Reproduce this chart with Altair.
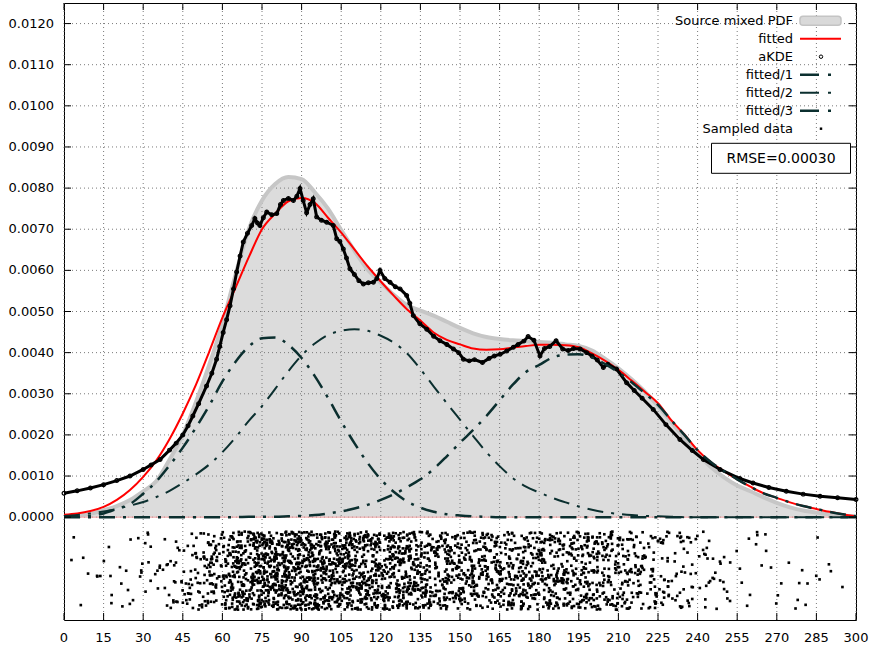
import math
import altair as alt
import pandas as pd

# ---------------- data ----------------
x_grid = list(range(0, 301, 5))

source_pdf = [0.00002, 0.00004, 0.00008, 0.00017, 0.00027, 0.00042, 0.00063, 0.00088, 0.0014, 0.0020,
              0.0028, 0.0037, 0.0047, 0.0059, 0.0070, 0.0077, 0.0081, 0.00827, 0.00822, 0.0079,
              0.0075, 0.00698, 0.00648, 0.00602, 0.0057, 0.0054, 0.00515, 0.00502, 0.0049, 0.00475,
              0.0046, 0.00447, 0.00438, 0.00433, 0.0043, 0.00428, 0.00426, 0.00424, 0.0042, 0.00416,
              0.00405, 0.00385, 0.00362, 0.00335, 0.00305, 0.0027, 0.00232, 0.00193, 0.00155, 0.00122,
              0.00097, 0.00077, 0.00063, 0.00048, 0.00035, 0.00024, 0.00016, 0.00011, 0.00007, 0.00004,
              0.00002]

fitted = [0.00006, 0.00009, 0.00015, 0.00025, 0.00042, 0.00066, 0.00098, 0.00138, 0.0019, 0.00252,
          0.00322, 0.00402, 0.00485, 0.00558, 0.00632, 0.0070, 0.00738, 0.00768, 0.00776, 0.00764,
          0.00728, 0.00692, 0.00651, 0.0061, 0.00573, 0.00538, 0.00505, 0.00478, 0.00449, 0.00431,
          0.0042, 0.0041, 0.00407, 0.00408, 0.00412, 0.00416, 0.00419, 0.00419, 0.00418, 0.00413,
          0.00398, 0.0038, 0.00358, 0.00332, 0.00305, 0.00277, 0.00236, 0.00201, 0.00163, 0.00134,
          0.00112, 0.00092, 0.00074, 0.00058, 0.00047, 0.00036, 0.00027, 0.0002, 0.00013, 0.00007,
          0.00002]

comp1 = [0.00001, 0.00001, 0.00003, 0.00009, 0.0002, 0.00032, 0.00057, 0.00087, 0.00126, 0.00169,
         0.00218, 0.00271, 0.0033, 0.00378, 0.00415, 0.00435, 0.00437, 0.00419, 0.00387, 0.00343,
         0.0029, 0.00233, 0.0018, 0.00132, 0.00092, 0.00061, 0.00038, 0.00023, 0.00013, 0.00007,
         0.00004, 0.00002, 0.00001, 0.0, 0.0, 0.0, 0.0, 0.0, 0.0, 0.0,
         0.0, 0.0, 0.0, 0.0, 0.0, 0.0, 0.0, 0.0, 0.0, 0.0,
         0.0, 0.0, 0.0, 0.0, 0.0, 0.0, 0.0, 0.0, 0.0, 0.0,
         0.0]

comp2 = [0.00003, 0.00005, 0.00009, 0.00014, 0.0002, 0.00028, 0.00037, 0.00049, 0.00064, 0.00083,
         0.00104, 0.00128, 0.00158, 0.00194, 0.00234, 0.0027, 0.00312, 0.00355, 0.00393, 0.00422,
         0.00443, 0.00453, 0.00457, 0.00453, 0.00441, 0.00424, 0.00398, 0.0036, 0.00318, 0.00277,
         0.00237, 0.00197, 0.00158, 0.00124, 0.00095, 0.00074, 0.0006, 0.00047, 0.00036, 0.00026,
         0.00018, 0.00012, 0.00008, 0.00005, 0.00003, 0.00002, 0.00001, 0.0, 0.0, 0.0,
         0.0, 0.0, 0.0, 0.0, 0.0, 0.0, 0.0, 0.0, 0.0, 0.0,
         0.0]

comp3 = [0.0, 0.0, 0.0, 0.0, 0.0, 0.0, 0.0, 0.0, 0.0, 0.0,
         0.0, 0.0, 0.0, 0.0, 0.00001, 0.00001, 0.00001, 0.00002, 0.00003, 0.00005,
         0.00009, 0.00014, 0.00021, 0.0003, 0.00042, 0.00056, 0.00073, 0.00092, 0.00117, 0.00148,
         0.00181, 0.00212, 0.00246, 0.00284, 0.00322, 0.00353, 0.0037, 0.00388, 0.00395, 0.00396,
         0.00388, 0.00372, 0.00352, 0.00328, 0.00301, 0.00273, 0.00236, 0.002, 0.00163, 0.00134,
         0.00112, 0.00092, 0.00074, 0.00058, 0.00047, 0.00036, 0.00027, 0.0002, 0.00013, 0.00007,
         0.00002]

akde_x = [0, 5, 10, 15, 20, 25, 30, 33, 36.4, 40, 42.5, 45, 47, 48.8, 51, 54, 56, 57.8, 59, 60.3,
          61.6, 62.9, 64.2, 65.4, 66.7, 67.9, 69.5, 71.1, 72.3, 73.3, 74.2, 75.5, 76.8, 78.7, 80.6, 82,
          83.1, 85, 86.9, 88.2, 89.4, 90.6, 91.9, 93.2, 94.4, 95.7, 97.5, 99.5, 102, 103.3, 104.5,
          105.8, 107, 108.3, 110, 111.7, 113.4, 115.3, 117.2, 118.5, 119.7, 121.5, 123.5, 125.5,
          127.3, 129.8, 131, 132.3, 134.8, 137.4, 140, 142.4, 145, 147.5, 149.5, 151.3, 153.5, 155.5,
          158.5, 161, 163, 165.2, 167.7, 170.2, 172, 174.2, 175.8, 178, 180.3, 182, 184, 186.4, 188.9,
          191, 193, 195.5, 198, 200, 202, 204.3, 206, 209.3, 213.1, 216, 219, 223.2, 228, 233.3, 238,
          242.2, 248.5, 256, 261, 267, 273.6, 280, 286.4, 293, 300]
akde_y = [0.00058, 0.00064, 0.00071, 0.00079, 0.00089, 0.001, 0.00116, 0.00127, 0.0014, 0.00163,
          0.0018, 0.002, 0.00222, 0.00246, 0.00276, 0.00319, 0.0035, 0.00384, 0.00415, 0.00449,
          0.0048, 0.00514, 0.00555, 0.00596, 0.00635, 0.00669, 0.0069, 0.00709, 0.00726, 0.00715,
          0.00709, 0.00728, 0.00742, 0.00735, 0.00738, 0.0076, 0.0077, 0.00775, 0.0077, 0.0078,
          0.00799, 0.0077, 0.0074, 0.0076, 0.00774, 0.0073, 0.00722, 0.00717, 0.00709, 0.00677,
          0.0067, 0.00652, 0.0063, 0.00604, 0.0059, 0.00575, 0.00567, 0.0057, 0.00571, 0.0058,
          0.006, 0.0058, 0.00571, 0.0056, 0.00555, 0.00539, 0.0052, 0.0049, 0.0047, 0.00457,
          0.0044, 0.00429, 0.0042, 0.00409, 0.004, 0.00384, 0.0038, 0.00383, 0.00376, 0.00386,
          0.00392, 0.00396, 0.00404, 0.00413, 0.0042, 0.00428, 0.00439, 0.0043, 0.00392, 0.0041,
          0.00415, 0.00429, 0.00409, 0.00405, 0.0041, 0.00409, 0.004, 0.00392, 0.00382, 0.00364,
          0.00372, 0.0036, 0.00327, 0.00308, 0.00289, 0.00262, 0.00225, 0.00189, 0.00162, 0.0014,
          0.00116, 0.00094, 0.00083, 0.00072, 0.00063, 0.00056, 0.00051, 0.00047, 0.00043]

# sampled data: number of points per 5-unit bin, counted from the strip below zero
sample_bin_lo = list(range(0, 300, 5))
sample_counts = [2, 3, 3, 5, 6, 7, 8, 11, 16, 25, 35, 50, 75, 95, 110, 115, 120, 120, 115, 110,
                 110, 105, 100, 95, 90, 88, 82, 78, 72, 70, 68, 66, 66, 66, 66, 66, 66, 66, 64, 62,
                 58, 54, 48, 40, 32, 26, 22, 16, 14, 9, 7, 5, 4, 4, 3, 4, 3, 3, 2, 0]

x_ticks = list(range(0, 301, 15))
y_ticks = [i / 1000 for i in range(13)]
legend_labels = ["Source mixed PDF", "fitted", "aKDE", "fitted/1", "fitted/2", "fitted/3", "Sampled data"]
rmse_text = "RMSE=0.00030"

# ---------------- build tables ----------------
def hashfrac(k, s):
    # deterministic visual jitter inside a bin (the strip's vertical spread carries no data)
    v = math.sin(k * 12.9898 + s * 78.233) * 43758.5453
    return v - math.floor(v)

samp_x, samp_y = [], []
k = 0
for lo, n in zip(sample_bin_lo, sample_counts):
    for i in range(n):
        k += 1
        samp_x.append(lo + 5 * hashfrac(k, 1))
        samp_y.append(-0.00035 - 0.0019 * hashfrac(k, 2))

curves = pd.DataFrame({"x": x_grid, "src": source_pdf, "fit": fitted,
                       "c1": comp1, "c2": comp2, "c3": comp3})
akde = pd.DataFrame({"x": akde_x, "y": akde_y})
samples = pd.DataFrame({"x": samp_x, "y": samp_y})
xt = pd.DataFrame({"x": x_ticks, "lab": [str(v) for v in x_ticks]})
yt = pd.DataFrame({"y": y_ticks, "lab": [f"{v:.4f}" for v in y_ticks]})

W, H = 792, 617
FONT = "DejaVu Sans"
TEAL = "#0b2f2f"
DASH = [16, 8, 3, 8]

xs = alt.Scale(domain=[0, 300], nice=False, zero=False)
ys = alt.Scale(domain=[-0.0025, 0.0125], nice=False, zero=False)


def X(f="x"):
    return alt.X(f"{f}:Q", scale=xs, axis=None)


def Y(f):
    return alt.Y(f"{f}:Q", scale=ys, axis=None)


area = alt.Chart(curves).mark_area(color="#dcdcdc", interpolate="monotone").encode(
    x=X(), y=Y("src"), y2=alt.datum(0))
area_edge = alt.Chart(curves).mark_line(color="#c6c6c6", strokeWidth=4, interpolate="monotone").encode(
    x=X(), y=Y("src"))

vgrid = alt.Chart(xt).mark_rule(color="#7a7a7a", strokeDash=[1, 3], strokeWidth=1).encode(
    x=X(), y=alt.value(0), y2=alt.value(H))
hgrid = alt.Chart(yt).mark_rule(color="#7a7a7a", strokeDash=[1, 3], strokeWidth=1).encode(
    y=Y("y"), x=alt.value(0), x2=alt.value(W))

zero_line = alt.Chart(yt.head(1)).mark_rule(color="#f3a3a3", strokeWidth=1).encode(
    y=Y("y"), x=alt.value(0), x2=alt.value(W))

fit_line = alt.Chart(curves).mark_line(color="#ff0000", strokeWidth=2, interpolate="monotone").encode(
    x=X(), y=Y("fit"))

akde_line = alt.Chart(akde).mark_line(color="black", strokeWidth=3).encode(x=X(), y=Y("y"))
akde_pts = alt.Chart(akde).mark_point(shape="circle", size=14, filled=False, color="black",
                                      strokeWidth=1.2, opacity=1).encode(x=X(), y=Y("y"))

c1_line = alt.Chart(curves).mark_line(color=TEAL, strokeWidth=2.5, strokeDash=DASH,
                                      interpolate="monotone").encode(x=X(), y=Y("c1"))
c2_line = alt.Chart(curves).mark_line(color=TEAL, strokeWidth=2, strokeDash=DASH,
                                      interpolate="monotone").encode(x=X(), y=Y("c2"))
c3_line = alt.Chart(curves).mark_line(color=TEAL, strokeWidth=2.5, strokeDash=DASH,
                                      interpolate="monotone").encode(x=X(), y=Y("c3"))

samp = alt.Chart(samples).mark_square(size=7, color="black", opacity=1).encode(x=X(), y=Y("y"))

# inward ticks on all four sides
tick_b = alt.Chart(xt).mark_rule(color="black").encode(x=X(), y=alt.value(H - 7), y2=alt.value(H))
tick_t = alt.Chart(xt).mark_rule(color="black").encode(x=X(), y=alt.value(0), y2=alt.value(7))
tick_l = alt.Chart(yt).mark_rule(color="black").encode(y=Y("y"), x=alt.value(0), x2=alt.value(7))
tick_r = alt.Chart(yt).mark_rule(color="black").encode(y=Y("y"), x=alt.value(W - 7), x2=alt.value(W))

# tick labels
xlab = alt.Chart(xt).mark_text(align="center", baseline="top", font=FONT, fontSize=13,
                               color="black").encode(x=X(), y=alt.value(H + 12), text="lab:N")
ylab = alt.Chart(yt).mark_text(align="right", baseline="middle", font=FONT, fontSize=13,
                               color="black").encode(y=Y("y"), x=alt.value(-10), text="lab:N")

# legend (gnuplot style: right-aligned text, sample on the right)
leg_layers = []
row_y = [17.7 + 18 * i for i in range(len(legend_labels))]
for lab, py in zip(legend_labels, row_y):
    leg_layers.append(
        alt.Chart(pd.DataFrame({"label": [lab]})).mark_text(
            align="right", baseline="middle", font=FONT, fontSize=13, color="black"
        ).encode(text="label:N", x=alt.value(729), y=alt.value(py))
    )
one = pd.DataFrame({"a": [0]})
leg_layers.append(alt.Chart(one).mark_rect(fill="#d9d9d9", stroke="#c4c4c4", strokeWidth=1.5,
                                           cornerRadius=3).encode(
    x=alt.value(736), x2=alt.value(777), y=alt.value(row_y[0] - 4.5), y2=alt.value(row_y[0] + 4.5)))
leg_layers.append(alt.Chart(one).mark_rule(color="#ff0000", strokeWidth=2).encode(
    x=alt.value(736), x2=alt.value(777), y=alt.value(row_y[1])))
leg_layers.append(alt.Chart(one).mark_point(shape="circle", size=12, filled=False, color="black",
                                            strokeWidth=1, opacity=1).encode(
    x=alt.value(757), y=alt.value(row_y[2])))
for j, wdt in zip(range(3), [2.5, 2, 2.5]):
    leg_layers.append(alt.Chart(one).mark_rule(color=TEAL, strokeWidth=wdt, strokeDash=[19, 9, 3, 20]).encode(
        x=alt.value(736), x2=alt.value(777), y=alt.value(row_y[3 + j])))
leg_layers.append(alt.Chart(one).mark_square(size=6, color="black", opacity=1).encode(
    x=alt.value(757), y=alt.value(row_y[6])))

rmse_box = alt.Chart(one).mark_rect(fill="white", stroke="black", strokeWidth=1).encode(
    x=alt.value(647.5), x2=alt.value(786.5), y=alt.value(140.3), y2=alt.value(170.3))
rmse_lab = alt.Chart(pd.DataFrame({"t": [rmse_text]})).mark_text(
    align="center", baseline="middle", font=FONT, fontSize=14, color="black"
).encode(text="t:N", x=alt.value(717), y=alt.value(155.5))

chart = alt.layer(
    area, vgrid, hgrid, area_edge, zero_line, fit_line, akde_line, akde_pts,
    c1_line, c2_line, c3_line, samp, tick_b, tick_t, tick_l, tick_r, xlab, ylab,
    *leg_layers, rmse_box, rmse_lab
).properties(
    width=W, height=H,
    autosize=alt.AutoSizeParams(type="none"),
    padding={"left": 64, "top": 3, "right": 16, "bottom": 32},
    background="white",
).configure_view(stroke="black", strokeWidth=1)

chart.save("out.html", embed_options={"renderer": "svg", "actions": False})
